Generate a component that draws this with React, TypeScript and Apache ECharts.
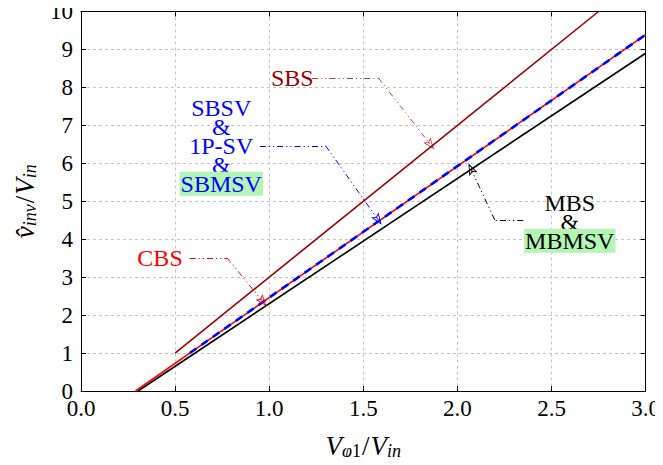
import React, { useEffect, useRef } from "react";
import * as echarts from "echarts";

// ---- data ----
const xTicks = [0, 0.5, 1.0, 1.5, 2.0, 2.5, 3.0];
const yTicks = [0, 1, 2, 3, 4, 5, 6, 7, 8, 9, 10];

// SBS (dark red)
const sbsLine = [
  [0.5, 1.0],
  [2.75, 10.0],
];
// CBS (red, solid)
const cbsLine = [
  [0.29, 0.0],
  [3.0, 9.39],
];
// SBSV & 1P-SV & SBMSV (blue, dashed)
const sbsvLine = [
  [0.578, 1.0],
  [3.0, 9.39],
];
// MBS & MBMSV (black)
const mbsLine = [
  [0.303, 0.0],
  [3.0, 8.9],
];

// annotation label anchors and leader paths (data coordinates)
const sbsLabelAt = [1.123, 8.25];
const sbsLeader = [
  [1.228, 8.25],
  [1.58, 8.25],
  [1.857, 6.49],
];
const sbsvLabelAt = [0.745, 6.46];
const sbsvLeader = [
  [0.95, 6.46],
  [1.3, 6.46],
  [1.579, 4.51],
];
const cbsLabelAt = [0.42, 3.51];
const cbsLeader = [
  [0.577, 3.51],
  [0.776, 3.51],
  [0.965, 2.36],
];
const mbsLabelAt = [2.597, 4.46];
const mbsLeader = [
  [2.35, 4.51],
  [2.198, 4.51],
  [2.072, 5.855],
];

const FONT = "Liberation Serif";
const C_SBS = "#990000";
const C_RED = "#ff0000";
const C_BLUE = "#0000ff";
const C_BLACK = "#000000";
const C_GREEN = "#b3f5b3";

const ARROW =
  "path://M0,0 L5,12 L0,9.5 L-5,12 Z M0,2.6 L-3.2,10.2 L0,8.2 L3.2,10.2 Z";

function leaderMarkLine(pts: number[][], color: string, opacity = 1) {
  const data: any[] = [];
  for (let i = 0; i < pts.length - 1; i++) {
    const last = i === pts.length - 2;
    data.push([
      { coord: pts[i], symbol: "none" },
      {
        coord: pts[i + 1],
        symbol: last ? ARROW : "none",
        symbolSize: last ? [9, 12] : 0,
      },
    ]);
  }
  return {
    silent: true,
    animation: false,
    label: { show: false },
    emphasis: { disabled: true },
    lineStyle: {
      color,
      opacity,
      width: 1,
      type: [6, 3, 1.2, 3, 1.2, 3],
    },
    itemStyle: { color, opacity },
    data,
  };
}

const subStyle = (italic: boolean, color = "#000") => ({
  fontFamily: FONT,
  fontSize: 18,
  fontStyle: italic ? "italic" : "normal",
  color,
  lineHeight: 18,
  padding: [13, 0, 0, 0],
  verticalAlign: "bottom",
});
const mainStyle = (italic: boolean, color = "#000") => ({
  fontFamily: FONT,
  fontSize: 27,
  fontStyle: italic ? "italic" : "normal",
  color,
  lineHeight: 28,
  verticalAlign: "top",
});

const nameRich = {
  i: mainStyle(true),
  n: { ...mainStyle(false), padding: [0, 1, 0, 1] },
  s: subStyle(true),
  sn: subStyle(false),
};

const textRich = (color: string) => ({
  b: {
    fontFamily: FONT,
    fontSize: 24,
    color,
    lineHeight: 19,
    textBorderWidth: 0,
  },
  g: {
    fontFamily: FONT,
    fontSize: 24,
    color,
    lineHeight: 18,
    backgroundColor: C_GREEN,
    padding: [0, 1, 0, 1],
    textBorderWidth: 0,
  },
});

export default function App() {
  const ref = useRef<HTMLDivElement>(null);
  useEffect(() => {
    if (!ref.current) return;
    const chart = echarts.init(ref.current, undefined, { renderer: "svg" });

    const axisCommonX = {
      type: "value",
      min: 0,
      max: 3,
      interval: 0.5,
    };
    const axisCommonY = {
      type: "value",
      min: 0,
      max: 10,
      interval: 1,
    };

    const labelSeriesData = [
      {
        value: sbsLabelAt,
        label: { formatter: "{b|SBS}", rich: textRich(C_SBS) },
      },
      {
        value: sbsvLabelAt,
        label: {
          formatter: "{b|SBSV}\n{b|&}\n{b|1P-SV}\n{b|&}\n{g|SBMSV}",
          rich: textRich(C_BLUE),
        },
      },
      {
        value: cbsLabelAt,
        label: { formatter: "{b|CBS}", rich: textRich(C_RED) },
      },
      {
        value: mbsLabelAt,
        label: {
          formatter: "{b|MBS}\n{b|&}\n{g|MBMSV}",
          rich: textRich(C_BLACK),
        },
      },
    ];

    chart.setOption({
      animation: false,
      backgroundColor: "#ffffff",
      grid: { left: 76, right: 15, top: 11, bottom: 73.5, containLabel: false },
      xAxis: [
        {
          ...axisCommonX,
          position: "bottom",
          name: "{i|V}{s|φ}{sn|1}{n|/}{i|V}{s|in}",
          nameLocation: "middle",
          nameGap: 41,
          nameTextStyle: { rich: nameRich },
          axisLine: { show: true, onZero: false, lineStyle: { color: "#000", width: 1 } },
          axisTick: { show: true, inside: true, length: 5, lineStyle: { color: "#000" } },
          axisLabel: {
            fontFamily: FONT,
            fontSize: 23,
            color: "#000",
            margin: 6,
            formatter: (v: number) => v.toFixed(1),
          },
          splitLine: {
            show: true,
            lineStyle: { color: "#c4c4c4", type: [3, 3], width: 1 },
          },
        },
        {
          ...axisCommonX,
          position: "top",
          axisLine: { show: true, onZero: false, lineStyle: { color: "#000", width: 1 } },
          axisTick: { show: true, inside: true, length: 5, lineStyle: { color: "#000" } },
          axisLabel: { show: false },
          splitLine: { show: false },
        },
      ],
      yAxis: [
        {
          ...axisCommonY,
          position: "left",
          name: "{i|v̂}{s|inv}{n|/}{i|V}{s|in}",
          nameLocation: "middle",
          nameGap: 42,
          nameRotate: 90,
          nameTextStyle: { rich: nameRich },
          axisLine: { show: true, onZero: false, lineStyle: { color: "#000", width: 1 } },
          axisTick: { show: true, inside: true, length: 5, lineStyle: { color: "#000" } },
          axisLabel: {
            fontFamily: FONT,
            fontSize: 23,
            color: "#000",
            margin: 8,
            formatter: (v: number) => String(v),
          },
          splitLine: {
            show: true,
            lineStyle: { color: "#c4c4c4", type: [3, 3], width: 1 },
          },
        },
        {
          ...axisCommonY,
          position: "right",
          axisLine: { show: true, onZero: false, lineStyle: { color: "#000", width: 1 } },
          axisTick: { show: true, inside: true, length: 5, lineStyle: { color: "#000" } },
          axisLabel: { show: false },
          splitLine: { show: false },
        },
      ],
      series: [
        {
          name: "MBS",
          type: "line",
          data: mbsLine,
          symbol: "none",
          lineStyle: { color: C_BLACK, width: 1.6 },
          markLine: leaderMarkLine(mbsLeader, C_BLACK),
          z: 2,
        },
        {
          name: "SBS",
          type: "line",
          data: sbsLine,
          symbol: "none",
          lineStyle: { color: C_SBS, width: 1.6 },
          markLine: leaderMarkLine(sbsLeader, C_SBS, 0.75),
          z: 2,
        },
        {
          name: "CBS",
          type: "line",
          data: cbsLine,
          symbol: "none",
          lineStyle: { color: C_RED, width: 1.6 },
          markLine: leaderMarkLine(cbsLeader, C_RED),
          z: 3,
        },
        {
          name: "SBSV",
          type: "line",
          data: sbsvLine,
          symbol: "none",
          lineStyle: { color: C_BLUE, width: 2.6, type: [8, 6] },
          markLine: leaderMarkLine(sbsvLeader, C_BLUE),
          z: 4,
        },
        {
          name: "labels",
          type: "scatter",
          symbol: "circle",
          symbolSize: 0,
          silent: true,
          itemStyle: { color: "#000", opacity: 1 },
          label: {
            show: true,
            position: "inside",
            align: "center",
            verticalAlign: "middle",
            textBorderWidth: 0,
            opacity: 1,
          },
          labelLayout: { hideOverlap: false },
          data: labelSeriesData,
          z: 5,
        },
      ],
    });
    return () => chart.dispose();
  }, []);

  return <div ref={ref} style={{ width: 663, height: 465, margin: -8 }} />;
}
